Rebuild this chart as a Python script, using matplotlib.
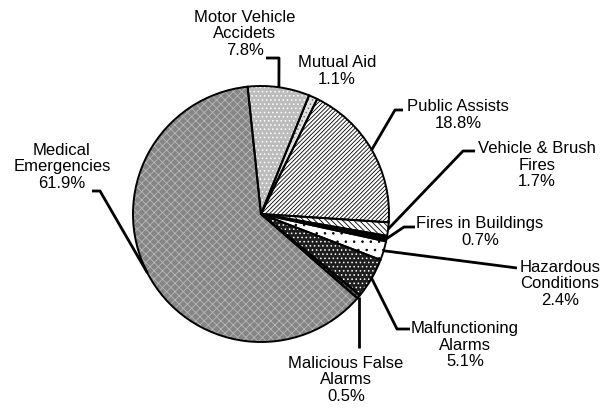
import numpy as np
import matplotlib
matplotlib.use("Agg")
import matplotlib.pyplot as plt

# call breakdown, clockwise from the top
labels = ["Motor Vehicle\nAccidets", "Mutual Aid", "Public Assists", "Vehicle & Brush\nFires",
          "Fires in Buildings", "Hazardous\nConditions", "Malfunctioning\nAlarms",
          "Malicious False\nAlarms", "Medical\nEmergencies"]
pcts = [7.8, 1.1, 18.8, 1.7, 0.7, 2.4, 5.1, 0.5, 61.9]

faces   = ["#bcbcbc", "#e2e2e2", "white", "white", "black", "white", "#1e1e1e", "#505050", "#858585"]
hcolors = ["white", "#7a7a7a", "black", "black", "black", "black", "white", "black", "#b8b8b8"]
hatches = ["....", "....", "////////", "\\\\\\\\\\\\", "", "..", "....", "xxxx", "xxxx"]

# label block centres (px, y from top) and leader bend points
lab_pos = [(245, 34), (337, 71), (458, 115), (537, 165), (480, 232),
           (560, 284), (465, 345), (346, 380), (62, 167)]
leader = [[(266, 58), (279, 58)], None, [(403, 110), (395, 110)], [(475, 151), (463, 151)],
          [(415, 227), (404, 227)], [(517, 268)], [(410, 329), (397, 329)], "vert",
          [(92, 191), (100, 191)]]

W, H = 611, 408
plt.rcParams["font.family"] = ["Liberation Sans", "DejaVu Sans"]
plt.rcParams["hatch.linewidth"] = 0.6

fig = plt.figure(figsize=(W / 100, H / 100), dpi=100)
ax = fig.add_axes([0, 0, 1, 1])

cx, cy, r = 261, H - 214, 128

wedges, _ = ax.pie(pcts, startangle=96, counterclock=False, center=(cx, cy), radius=r,
                   colors=faces, wedgeprops=dict(linewidth=0), frame=True)
for w, hc, hh in zip(wedges, hcolors, hatches):
    w.set_edgecolor(hc)
    w.set_hatch(hh)
    w.set_linewidth(0)
outl, _ = ax.pie(pcts, startangle=96, counterclock=False, center=(cx, cy), radius=r,
                 wedgeprops=dict(fill=False, edgecolor="black", linewidth=1.4), frame=True)
ax.set_xlim(0, W)
ax.set_ylim(0, H)
ax.set_aspect("equal")
ax.axis("off")

for w, lab, p, pos, ld in zip(wedges, labels, pcts, lab_pos, leader):
    ax.text(pos[0], H - pos[1], f"{lab}\n{p}%", ha="center", va="center",
            fontsize=12, linespacing=1.15)
    if ld is None:
        continue
    mid = np.deg2rad((w.theta1 + w.theta2) / 2)
    ex, ey = cx + r * np.cos(mid), cy + r * np.sin(mid)
    if ld == "vert":
        pts = [(ex, H - 348), (ex, ey)]
    else:
        pts = [(x, H - y) for x, y in ld] + [(ex, ey)]
    xs, ys = zip(*pts)
    ax.plot(xs, ys, color="black", lw=2, solid_capstyle="butt")

fig.savefig("out.png", dpi=100)
